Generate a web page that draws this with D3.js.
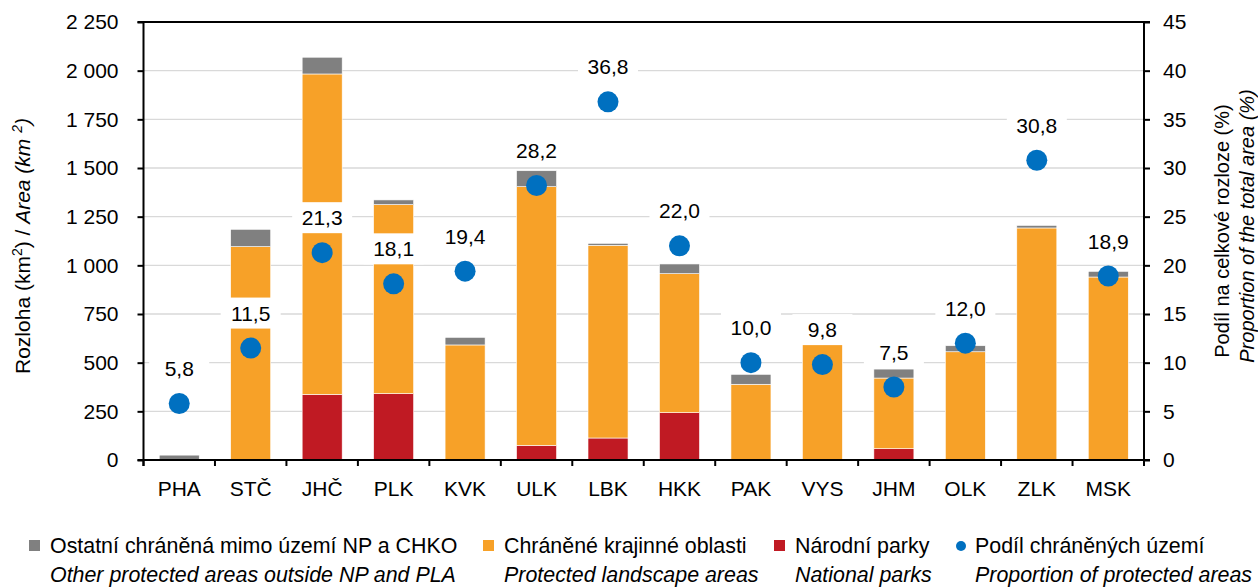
<!DOCTYPE html>
<head>
  <meta charset="utf-8">
  <script src="https://d3js.org/d3.v7.min.js"></script>
  <style>
    body { margin:0; background:white; font-family: "Liberation Sans", Arial, sans-serif; }
    .tick text { font-size: 21px; fill: #000; }
    .lab { font-size: 21px; }
    .leg { font-size: 21.4px; }
  </style>
</head>
<body>
  <script>
    // data
    var regions = ["PHA","STČ","JHČ","PLK","KVK","ULK","LBK","HKK","PAK","VYS","JHM","OLK","ZLK","MSK"];
    var nationalParks = [0, 0, 337, 341, 0, 75, 113, 243, 0, 0, 58, 0, 0, 0];
    var landscapeAreas = [0, 1096, 1646, 971, 591, 1329, 990, 714, 389, 605, 363, 556, 1192, 940];
    var otherAreas = [25, 89, 86, 24, 39, 82, 10, 50, 51, 8, 46, 31, 13, 29];
    var sharePct = [5.8, 11.5, 21.3, 18.1, 19.4, 28.2, 36.8, 22.0, 10.0, 9.8, 7.5, 12.0, 30.8, 18.9];
    var leftTicks = [0, 250, 500, 750, 1000, 1250, 1500, 1750, 2000, 2250];
    var rightTicks = [0, 5, 10, 15, 20, 25, 30, 35, 40, 45];

    var seriesKeys = ["np", "chko", "other"];
    var colors = {np: "#c01a23", chko: "#f7a128", other: "#808080", dot: "#0070c0"};

    var table = regions.map(function(r, i) {
      return {region: r, np: nationalParks[i], chko: landscapeAreas[i], other: otherAreas[i], pct: sharePct[i]};
    });

    var W = 1258, H = 587;
    var svg = d3.select("body").append("svg")
      .attr("width", W)
      .attr("height", H)

    var pLeft = 143.5, pRight = 1144, pTop = 22, pBottom = 460;

    var x = d3.scaleBand().domain(regions).range([pLeft, pRight]).paddingInner(0.44).paddingOuter(0.22);
    var y = d3.scaleLinear().domain([0, 2250]).range([pBottom, pTop]);
    var y2 = d3.scaleLinear().domain([0, 45]).range([pBottom, pTop]);

    // gridlines
    svg.append("g").selectAll("line").data(leftTicks.slice(1, -1)).enter()
      .append("line")
      .attr("x1", pLeft).attr("x2", pRight)
      .attr("y1", function(d) {return y(d)}).attr("y2", function(d) {return y(d)})
      .style("stroke", "#d9d9d9").style("stroke-width", 1.3)

    // stacked bars
    var stacked = d3.stack().keys(seriesKeys)(table);
    svg.append("g").selectAll("g").data(stacked).enter()
      .append("g")
      .style("fill", function(d) {return colors[d.key]})
      .selectAll("rect").data(function(d) {return d}).enter()
      .filter(function(d) {return d[1] - d[0] > 0})
      .append("rect")
      .attr("x", function(d) {return x(d.data.region)})
      .attr("width", x.bandwidth())
      .attr("y", function(d) {return y(d[1])})
      .attr("height", function(d) {return y(d[0]) - y(d[1])})
      .style("stroke", "#fff").style("stroke-width", 0.6)

    // axes
    var yAxis = d3.axisLeft(y).tickValues(leftTicks).tickSize(6).tickPadding(19)
      .tickFormat(function(d) {return d3.format(",")(d).replace(/,/g, " ")});
    svg.append("g").attr("transform", "translate(" + pLeft + ",0)").call(yAxis)
      .call(function(g) {g.select(".domain").remove()});

    var y2Axis = d3.axisRight(y2).tickValues(rightTicks).tickSize(6).tickPadding(13);
    svg.append("g").attr("transform", "translate(" + pRight + ",0)").call(y2Axis)
      .call(function(g) {g.select(".domain").remove()});

    var xAxis = d3.axisBottom(x).tickSize(0).tickPadding(21);
    svg.append("g").attr("transform", "translate(0," + pBottom + ")").call(xAxis)
      .call(function(g) {g.select(".domain").remove()});

    // category separators under the axis
    var step = (pRight - pLeft) / regions.length;
    svg.append("g").selectAll("line").data(d3.range(regions.length + 1)).enter()
      .append("line")
      .attr("x1", function(i) {return pLeft + i * step}).attr("x2", function(i) {return pLeft + i * step})
      .attr("y1", pBottom).attr("y2", pBottom + 6)
      .style("stroke", "#000").style("stroke-width", 2)

    svg.selectAll(".tick line").style("stroke", "#000").style("stroke-width", 2);

    // frame lines
    var frame = svg.append("g").style("stroke", "#000").style("stroke-width", 2);
    frame.append("line").attr("x1", pLeft).attr("x2", pLeft).attr("y1", pTop).attr("y2", pBottom + 6);
    frame.append("line").attr("x1", pRight).attr("x2", pRight).attr("y1", pTop).attr("y2", pBottom + 6);
    frame.append("line").attr("x1", pLeft - 6).attr("x2", pRight + 6).attr("y1", pBottom).attr("y2", pBottom);
    frame.append("line").attr("x1", pLeft - 6).attr("x2", pRight + 6).attr("y1", pTop).attr("y2", pTop);

    // share dots + labels
    var cx = function(d) {return x(d.region) + x.bandwidth() / 2};
    svg.append("g").selectAll("circle").data(table).enter()
      .append("circle")
      .attr("cx", cx)
      .attr("cy", function(d) {return y2(d.pct)})
      .attr("r", 10.5)
      .style("fill", colors.dot)

    var labels = svg.append("g").selectAll("g").data(table).enter()
      .append("g")
      .attr("transform", function(d) {return "translate(" + cx(d) + "," + (y2(d.pct) - 35) + ")"});
    labels.append("rect")
      .attr("x", -30).attr("y", -15.5).attr("width", 60).attr("height", 31)
      .style("fill", "#fff")
    labels.append("text")
      .attr("class", "lab")
      .attr("text-anchor", "middle")
      .attr("dy", "0.36em")
      .text(function(d) {return d3.format(".1f")(d.pct).replace(".", ",")})

    // axis titles
    var lt = svg.append("text").attr("class", "lab")
      .attr("transform", "translate(30,246) rotate(-90)")
      .attr("text-anchor", "middle");
    lt.append("tspan").text("Rozloha (km");
    lt.append("tspan").text("2").attr("font-size", 14).attr("dy", -8);
    lt.append("tspan").text(") / ").attr("dy", 8);
    lt.append("tspan").text("Area (km ").style("font-style", "italic");
    lt.append("tspan").text("2").attr("font-size", 14).attr("dy", -8).style("font-style", "italic");
    lt.append("tspan").text(")").attr("dy", 8).style("font-style", "italic");

    svg.append("text").attr("class", "lab")
      .attr("transform", "translate(1229,231) rotate(-90)")
      .attr("text-anchor", "middle")
      .style("font-size", "20px")
      .text("Podíl na celkové rozloze (%)");
    svg.append("text").attr("class", "lab")
      .attr("transform", "translate(1254,226) rotate(-90)")
      .attr("text-anchor", "middle")
      .style("font-size", "20px")
      .style("font-style", "italic")
      .text("Proportion of the total area (%)");

    // legend
    var legendItems = [
      {key: "other", cz: "Ostatní chráněná mimo území NP a CHKO", en: "Other protected areas outside NP and PLA", sx: 50},
      {key: "chko", cz: "Chráněné krajinné oblasti", en: "Protected landscape areas", sx: 504},
      {key: "np", cz: "Národní parky", en: "National parks", sx: 795},
      {key: "dot", cz: "Podíl chráněných území", en: "Proportion of protected areas", sx: 975}
    ];
    var legend = svg.selectAll(".legend").data(legendItems).enter()
      .append("g").attr("class", "legend");
    legend.filter(function(d) {return d.key !== "dot"}).append("rect")
      .attr("x", function(d) {return d.sx - 21}).attr("y", 540)
      .attr("width", 11).attr("height", 11)
      .style("fill", function(d) {return colors[d.key]})
    legend.filter(function(d) {return d.key === "dot"}).append("circle")
      .attr("cx", function(d) {return d.sx - 14}).attr("cy", 546).attr("r", 5)
      .style("fill", colors.dot)
    legend.append("text").attr("class", "leg")
      .attr("x", function(d) {return d.sx}).attr("y", 553)
      .text(function(d) {return d.cz})
    legend.append("text").attr("class", "leg")
      .attr("x", function(d) {return d.sx}).attr("y", 581.5)
      .style("font-style", "italic")
      .text(function(d) {return d.en})
  </script>
</body>
